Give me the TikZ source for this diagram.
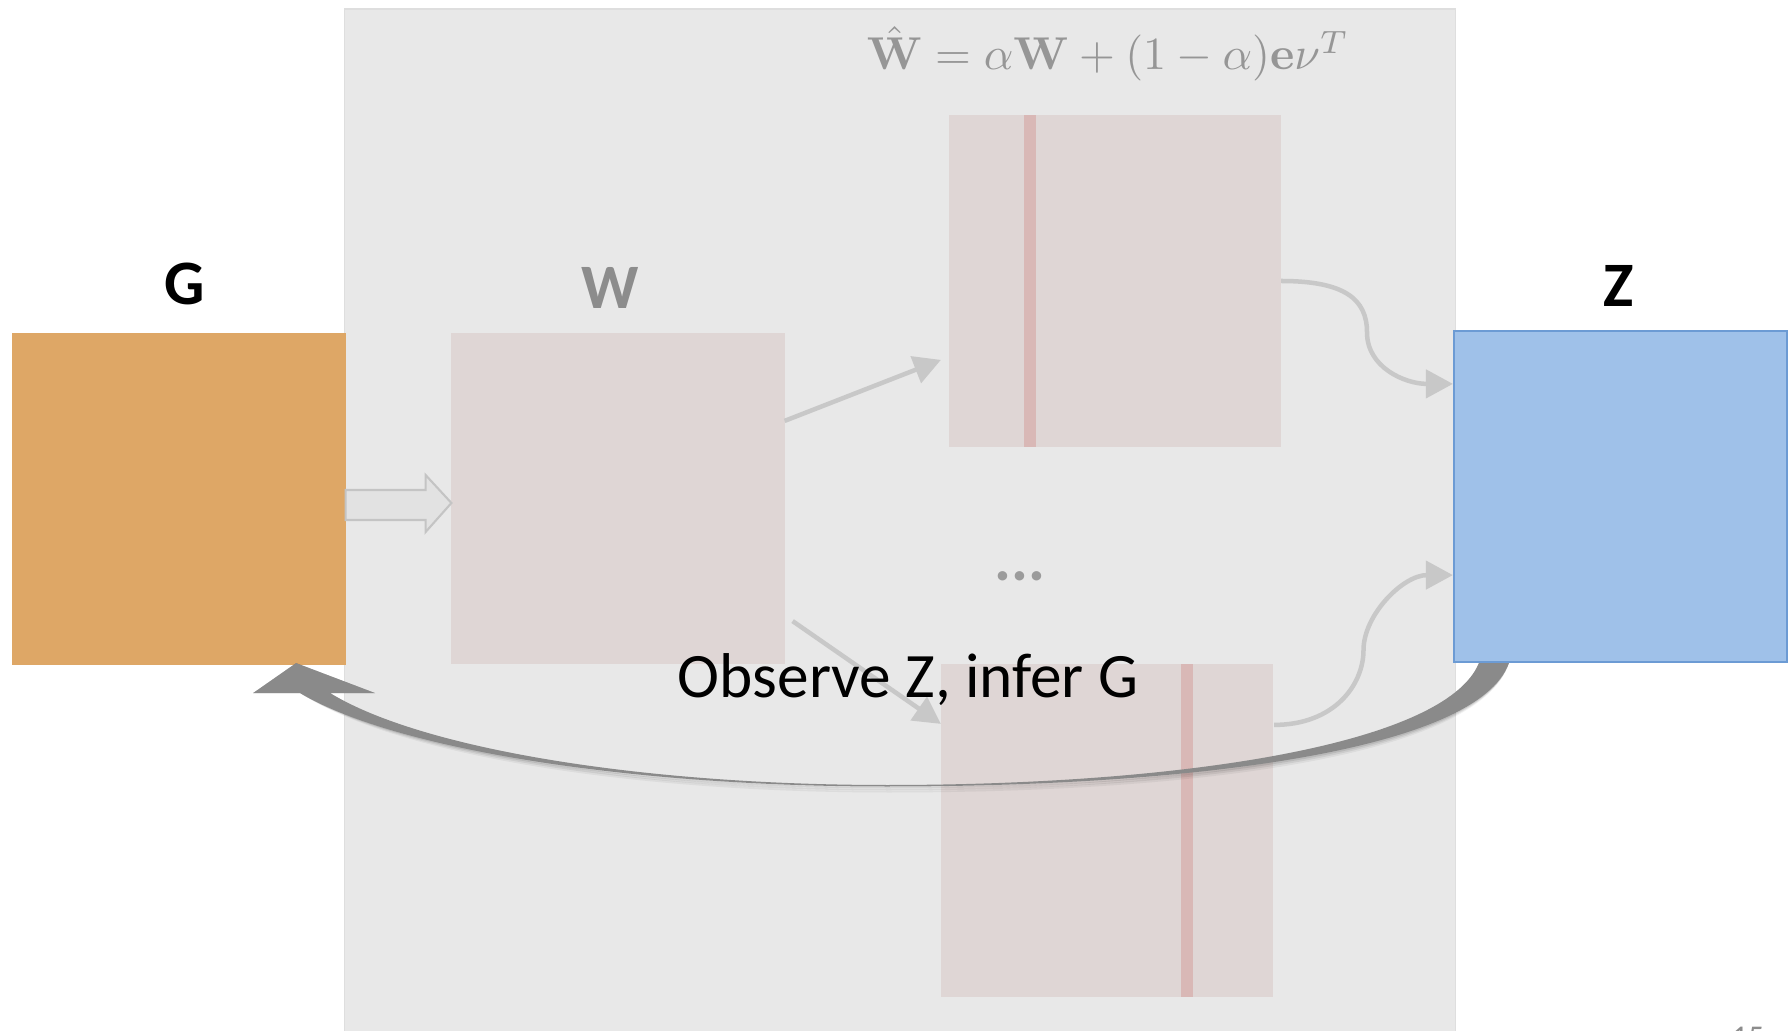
\documentclass[tikz,border=0pt]{standalone}
\usepackage[no-math]{fontspec}
\setmainfont{Carlito}
\usepackage{graphicx}
\usepackage{amsmath}
\usetikzlibrary{calc,arrows.meta}

\definecolor{panelgray}{RGB}{232,232,232}
\definecolor{paneledge}{RGB}{222,222,222}
\definecolor{matfill}{RGB}{223,214,213}
\definecolor{stripecol}{RGB}{217,184,182}
\definecolor{conngray}{RGB}{200,200,200}
\definecolor{blockfill}{RGB}{226,226,226}
\definecolor{blockedge}{RGB}{196,196,196}
\definecolor{gfill}{RGB}{222,167,102}
\definecolor{zfill}{RGB}{159,193,233}
\definecolor{zedge}{RGB}{108,155,212}
\definecolor{formgray}{RGB}{150,150,150}
\definecolor{wlabgray}{RGB}{140,140,140}
\definecolor{dotgray}{RGB}{155,155,155}
\definecolor{arrowgray}{RGB}{138,138,138}
\definecolor{pagegray}{RGB}{140,140,140}

% outline of the tapered return arrow from Z back to G
\newcommand\zgarrowpath{%
  (za) .. controls (1445,745) and (1180,785) .. (887,785)
  .. controls (642,785) and (422,749) .. ($(tip)+(34,30)$)
  -- ($(tip)+(79,30)$) -- (tip) -- ($(tip)+(-43,30)$) -- ($(tip)+(4,30)$)
  .. controls (394,749) and (628,786.5) .. (887,786.5)
  .. controls (1196,786.5) and (1478,750) .. (zc) -- cycle}

\begin{document}
\begin{tikzpicture}[x=0.01cm,y=-0.01cm,
  box/.style={rectangle, inner sep=0pt, outer sep=0pt,
    minimum width=3.33cm, minimum height=3.32cm},
  matbox/.style={box, fill=matfill},
  stripebox/.style={rectangle, inner sep=0pt, outer sep=0pt,
    fill=stripecol, minimum width=0.12cm},
  thinarrow/.style={draw=conngray, line width=0.045cm,
    -{Triangle[length=0.27cm,width=0.28cm]}},
  blockarrow/.style={fill=blockfill, draw=blockedge, line width=0.6pt,
    line join=miter},
  biglabel/.style={font=\fontsize{18pt}{21pt}\selectfont\bfseries,
    inner sep=0pt, anchor=base},
  bigarrow/.style={fill=arrowgray},
  arrowshade/.style={fill=black, fill opacity=#1}
]
\useasboundingbox (0,0) rectangle (1788,1031);
\fill[white] (0,0) rectangle (1788,1031);

% shaded panel holding the walk matrices
\node[rectangle, inner sep=0pt, outer sep=0pt, fill=panelgray, draw=paneledge,
  line width=0.4pt, minimum width=11.10cm, minimum height=10.25cm]
  (panel) at (900,522) {};

% matrices
\node[matbox, minimum height=3.31cm] (W) at (618,498.5) {};
\node[matbox, minimum width=3.32cm] (T) at (1115,281) {};
\node[stripebox, minimum height=3.32cm] (Ts) at (1030,281) {};
\node[matbox, minimum width=3.32cm, minimum height=3.33cm] (B) at (1107,830.5) {};
\node[stripebox, minimum height=3.33cm] (Bs) at (1187,830.5) {};

% graph and embedding blocks
\node[box, fill=gfill] (G) at (179,499) {};
\node[box, fill=zfill, draw=zedge, line width=0.6pt, minimum height=3.31cm]
  (Z) at (1620.5,496.5) {};

% labels
\node[biglabel] (Glab) at (185,305) {G};
\node[biglabel, text=wlabgray] (Wlab) at (610,309) {W};
\node[biglabel] (Zlab) at (1619,307) {Z};

\node[anchor=base, inner sep=0pt, text=formgray] (eq) at (1108,70)
  {\resizebox{4.82cm}{!}{$\hat{\mathbf{W}} = \alpha\mathbf{W} + (1-\alpha)\mathbf{e}\nu^{T}$}};

\node[anchor=base, inner sep=0pt, text=dotgray,
  font=\fontsize{18pt}{21pt}\selectfont\bfseries] (dots) at (1020,581) {...};

% block arrow G -> W
\coordinate (ba1) at ($(G.east)+(0,6)$);
\coordinate (ba2) at ($(W.west)+(0,4.5)$);
\draw[blockarrow] ($(ba1)+(0,-15)$) -- ($(ba1)+(80,-15)$) -- ($(ba1)+(80,-30)$)
  -- (ba2) -- ($(ba1)+(80,27)$) -- ($(ba1)+(80,15)$) -- ($(ba1)+(0,15)$) -- cycle;

% W -> restart matrices
\coordinate (w1) at ($(W.north east)+(0,88)$);
\coordinate (t1) at ($(T.north west)+(-8,245)$);
\coordinate (w2) at ($(W.south east)+(8,-43)$);
\coordinate (b1) at ($(B.north west)+(0,60)$);
\draw[thinarrow] (w1) -- (t1);
\draw[thinarrow] (w2) -- (b1);

% restart matrices -> Z
\coordinate (zt) at ($(Z.north west)+(-1,53)$);
\coordinate (bs) at ($(B.north east)+(1,61)$);
\coordinate (zb) at ($(Z.south west)+(-1,-87)$);
\draw[thinarrow] (T.east) .. controls +(64,0) and +(0,-33) .. ($(T.east)!0.5!(zt)$)
  .. controls +(0,35) and +(-48,0) .. (zt);
\draw[thinarrow] (bs) .. controls +(60,0) and +(0,35) .. ($(bs)!0.5!(zb)$)
  .. controls +(0,-35) and +(-50,0) .. (zb);

% caption
\node[anchor=base, inner sep=0pt, font=\fontsize{18pt}{21pt}\selectfont]
  (obs) at (908,698) {Observe Z, infer G};

% tapered curved arrow Z -> G, with a soft shadow underneath
\coordinate (za) at ($(Z.south west)+(25,1)$);
\coordinate (zc) at ($(Z.south west)+(55,1)$);
\coordinate (tip) at ($(G.south east)+(-49.5,-2)$);
\begin{scope}[shift={(2,6)}]
  \path[arrowshade=0.05] \zgarrowpath;
\end{scope}
\begin{scope}[shift={(1.5,4)}]
  \path[arrowshade=0.07] \zgarrowpath;
\end{scope}
\begin{scope}[shift={(1,2)}]
  \path[arrowshade=0.09] \zgarrowpath;
\end{scope}
\path[bigarrow] \zgarrowpath;

% slide number
\node[anchor=base, inner sep=0pt, text=pagegray,
  font=\fontsize{9pt}{11pt}\selectfont] (pg) at (1748,1047) {15};
\end{tikzpicture}
\end{document}
